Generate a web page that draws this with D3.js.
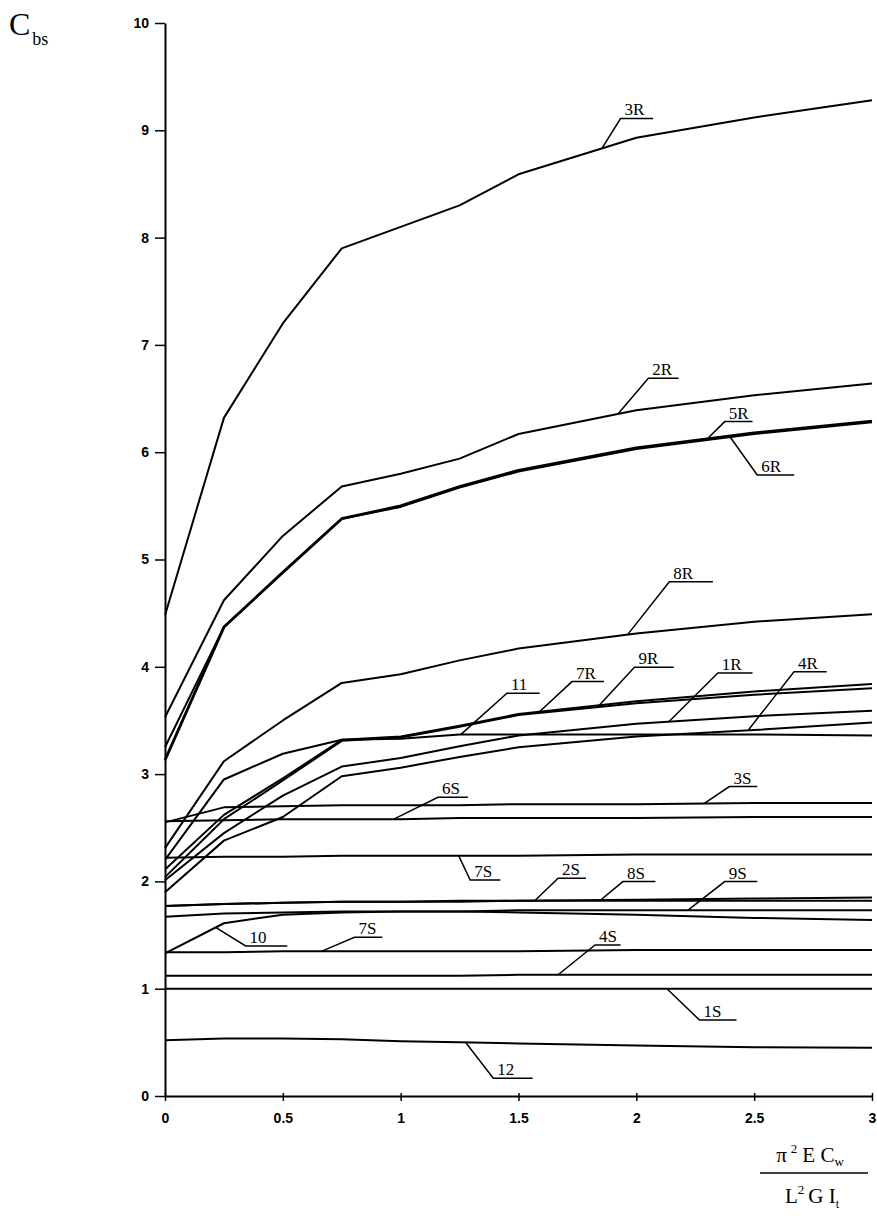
<!DOCTYPE html>
<html>
<head>
<meta charset="utf-8">
<script src="https://cdn.jsdelivr.net/npm/d3@7/dist/d3.min.js"></script>
<style>
  html, body { margin: 0; padding: 0; background: #fff; }
  svg { display: block; }
</style>
</head>
<body>
<svg id="chart" width="877" height="1230"></svg>
<script>
// ---------- data ----------
const xValues = [0, 0.25, 0.5, 0.75, 1, 1.25, 1.5, 2, 2.5, 3];
const xTicks = [0, 0.5, 1, 1.5, 2, 2.5, 3];
const xTickLabels = ["0", "0.5", "1", "1.5", "2", "2.5", "3"];
const yTicks = [0, 1, 2, 3, 4, 5, 6, 7, 8, 9, 10];
const yTickLabels = ["0", "1", "2", "3", "4", "5", "6", "7", "8", "9", "10"];

const curve3R  = [4.48, 6.32, 7.20, 7.90, 8.10, 8.30, 8.59, 8.93, 9.12, 9.28];
const curve2R  = [3.53, 4.62, 5.22, 5.68, 5.80, 5.94, 6.17, 6.39, 6.53, 6.64];
const curve5R  = [3.25, 4.37, 4.88, 5.38, 5.49, 5.67, 5.82, 6.03, 6.17, 6.28];
const curve6R  = [3.13, 4.37, 4.88, 5.38, 5.50, 5.68, 5.83, 6.04, 6.18, 6.29];
const curve8R  = [2.31, 3.12, 3.50, 3.85, 3.93, 4.06, 4.17, 4.31, 4.42, 4.49];
const curve11  = [2.20, 2.95, 3.19, 3.32, 3.33, 3.37, 3.37, 3.37, 3.37, 3.36];
const curve7R  = [2.11, 2.62, 2.96, 3.32, 3.35, 3.45, 3.56, 3.68, 3.77, 3.84];
const curve9R  = [2.04, 2.58, 2.94, 3.31, 3.34, 3.44, 3.55, 3.66, 3.74, 3.80];
const curve1R  = [2.01, 2.45, 2.80, 3.07, 3.15, 3.26, 3.36, 3.47, 3.54, 3.59];
const curve4R  = [1.90, 2.38, 2.60, 2.98, 3.06, 3.16, 3.25, 3.35, 3.41, 3.48];
const curve3S  = [2.55, 2.69, 2.70, 2.71, 2.71, 2.71, 2.72, 2.72, 2.73, 2.73];
const curve6S  = [2.56, 2.57, 2.58, 2.58, 2.58, 2.59, 2.59, 2.59, 2.60, 2.60];
const curve7Sa = [2.22, 2.23, 2.23, 2.24, 2.24, 2.24, 2.24, 2.25, 2.25, 2.25];
const curve2S  = [1.77, 1.79, 1.80, 1.81, 1.81, 1.82, 1.82, 1.83, 1.84, 1.85];
const curve8S  = [1.77, 1.79, 1.80, 1.81, 1.81, 1.81, 1.82, 1.82, 1.82, 1.82];
const curve9S  = [1.67, 1.70, 1.71, 1.72, 1.72, 1.72, 1.73, 1.73, 1.73, 1.73];
const curve10  = [1.33, 1.61, 1.69, 1.71, 1.72, 1.72, 1.71, 1.69, 1.66, 1.64];
const curve7Sb = [1.34, 1.34, 1.35, 1.35, 1.35, 1.35, 1.35, 1.36, 1.36, 1.36];
const curve4S  = [1.12, 1.12, 1.12, 1.12, 1.12, 1.12, 1.13, 1.13, 1.13, 1.13];
const curve1S  = [1.00, 1.00, 1.00, 1.00, 1.00, 1.00, 1.00, 1.00, 1.00, 1.00];
const curve12  = [0.52, 0.535, 0.535, 0.53, 0.51, 0.50, 0.49, 0.47, 0.455, 0.45];

const seriesNames = ["3R","2R","5R","6R","8R","11","7R","9R","1R","4R","3S","6S","7S","2S","8S","9S","10","7S","4S","1S","12"];
const seriesValues = [curve3R, curve2R, curve5R, curve6R, curve8R, curve11, curve7R, curve9R, curve1R, curve4R,
  curve3S, curve6S, curve7Sa, curve2S, curve8S, curve9S, curve10, curve7Sb, curve4S, curve1S, curve12];

// label callouts: series index, anchor x on curve, elbow (x,y), underline end x  (data units)
const labelSeries  = [0, 1, 2, 3, 4, 5, 6, 7, 8, 9, 10, 11, 12, 13, 14, 15, 16, 17, 18, 19, 20];
const labelAnchorX = [1.854, 1.922, 2.296, 2.395, 1.963, 1.256, 1.589, 1.835, 2.139, 2.474, 2.287, 0.971, 1.246, 1.570, 1.845, 2.218, 0.215, 0.666, 1.668, 2.130, 1.276];
const labelElbowX  = [1.933, 2.051, 2.375, 2.513, 2.140, 1.451, 1.727, 1.992, 2.346, 2.669, 2.395, 1.158, 1.295, 1.668, 1.943, 2.375, 0.342, 0.804, 1.825, 2.268, 1.393];
const labelElbowY  = [9.11, 6.69, 6.285, 5.788, 4.793, 3.753, 3.862, 3.995, 3.942, 3.954, 2.884, 2.784, 2.013, 2.029, 1.998, 1.998, 1.398, 1.480, 1.407, 0.708, 0.166];
const labelEndX    = [2.071, 2.179, 2.493, 2.670, 2.325, 1.590, 1.863, 2.159, 2.493, 2.808, 2.513, 1.285, 1.423, 1.786, 2.081, 2.513, 0.519, 0.922, 1.933, 2.425, 1.560];

// ---------- drawing ----------
const svg = d3.select("#chart");
const x = d3.scaleLinear().domain([0, 3]).range([165, 872]);
const y = d3.scaleLinear().domain([0, 10]).range([1096, 23]);

const serif = "'Liberation Serif', 'Times New Roman', serif";
const sans = "'Liberation Sans', Arial, sans-serif";

// axes
const yAxis = d3.axisLeft(y).tickValues(yTicks).tickFormat((d, i) => yTickLabels[i]).tickSizeInner(10).tickSizeOuter(0).tickPadding(6);
const gy = svg.append("g").attr("transform", `translate(${x(0)},0)`).call(yAxis);
gy.select(".domain").attr("stroke", "#000").attr("stroke-width", 2);
gy.selectAll(".tick line").attr("stroke", "#000").attr("stroke-width", 1.5);
gy.selectAll(".tick text").attr("font-family", sans).attr("font-weight", "bold").attr("font-size", 14).attr("fill", "#000");

const xAxis = d3.axisBottom(x).tickValues(xTicks).tickFormat((d, i) => xTickLabels[i]).tickSizeInner(5).tickSizeOuter(0).tickPadding(12);
const gx = svg.append("g").attr("transform", `translate(0,${y(0)})`).call(xAxis);
gx.select(".domain").attr("stroke", "#000").attr("stroke-width", 2);
gx.selectAll(".tick line").attr("stroke", "#000").attr("stroke-width", 1.5).attr("y1", -3);
gx.selectAll(".tick text").attr("font-family", sans).attr("font-weight", "bold").attr("font-size", 14).attr("fill", "#000");

// curves
const line = d3.line().x(d => x(d[0])).y(d => y(d[1]));
const curvesG = svg.append("g");
seriesValues.forEach((vals, i) => {
  curvesG.append("path")
    .datum(xValues.map((xv, k) => [xv, vals[k]]))
    .attr("d", line)
    .attr("fill", "none")
    .attr("stroke", "#000")
    .attr("stroke-width", seriesNames[i] === "6R" ? 2.8 : 2)
    .attr("stroke-linejoin", "round");
});

// label callouts
function valueAt(vals, xv) {
  const interp = d3.scaleLinear().domain(xValues).range(vals);
  return interp(xv);
}
const labG = svg.append("g");
labelSeries.forEach((si, i) => {
  const ax = labelAnchorX[i];
  const ay = valueAt(seriesValues[si], ax);
  const ex = labelElbowX[i], ey = labelElbowY[i], ux = labelEndX[i];
  labG.append("path")
    .attr("d", `M${x(ax)},${y(ay)}L${x(ex)},${y(ey)}L${x(ux)},${y(ey)}`)
    .attr("fill", "none").attr("stroke", "#000").attr("stroke-width", 1.5);
  labG.append("text")
    .attr("x", x(ex) + 4).attr("y", y(ey) - 3)
    .attr("font-family", serif).attr("font-size", 17).attr("fill", "#000")
    .text(seriesNames[si]);
});

// y title C_bs
const yt = svg.append("text").attr("x", 9).attr("y", 35).attr("font-family", serif).attr("fill", "#000");
yt.append("tspan").attr("font-size", 32).text("C");
yt.append("tspan").attr("font-size", 18).attr("dx", 2).attr("dy", 10).text("bs");

// x title fraction
const num = svg.append("text").attr("x", 810).attr("y", 1162).attr("text-anchor", "middle").attr("font-family", serif).attr("font-size", 21).attr("fill", "#000");
num.append("tspan").text("π");
num.append("tspan").attr("font-size", 13).attr("dx", 4).attr("dy", -9).text("2");
num.append("tspan").attr("dx", 5).attr("dy", 9).text("E C");
num.append("tspan").attr("font-size", 13).attr("dy", 4).text("w");
svg.append("line").attr("x1", 760).attr("x2", 868).attr("y1", 1173).attr("y2", 1173).attr("stroke", "#000").attr("stroke-width", 1.5);
const den = svg.append("text").attr("x", 812).attr("y", 1203).attr("text-anchor", "middle").attr("font-family", serif).attr("font-size", 21).attr("fill", "#000");
den.append("tspan").text("L");
den.append("tspan").attr("font-size", 13).attr("dy", -9).text("2");
den.append("tspan").attr("dx", 4).attr("dy", 9).text("G I");
den.append("tspan").attr("font-size", 12).attr("dy", 5).text("t");
</script>
</body>
</html>
